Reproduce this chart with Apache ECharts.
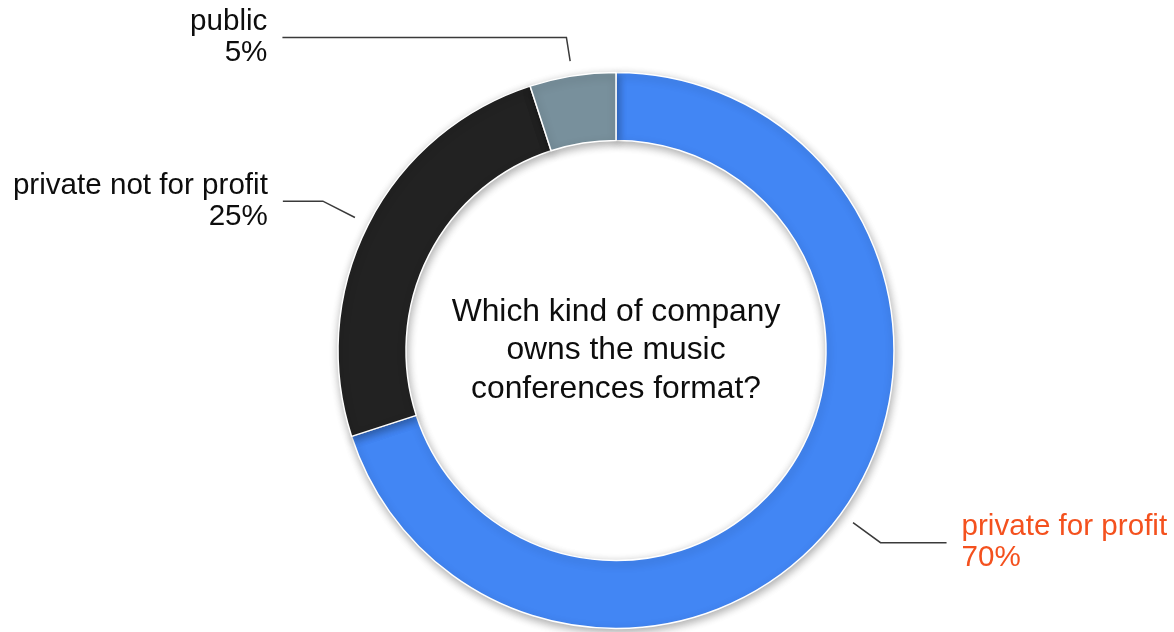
<!DOCTYPE html>
<html>
<head>
<meta charset="utf-8">
<title>Music conferences ownership</title>
<script src="https://cdn.jsdelivr.net/npm/echarts@6/dist/echarts.min.js"></script>
<style>
  html, body { margin: 0; padding: 0; background: #ffffff; }
  #chart { width: 1174px; height: 632px; }
</style>
</head>
<body>
<div id="chart"></div>
<script>
// Ownership shares, clockwise from 12 o'clock
const categories = ['private for profit', 'private not for profit', 'public'];
const shares = [70, 25, 5];
const sliceColors = ['#4286f4', '#222222', '#78909c'];
const labelColors = ['#f4511e', '#0d0d0d', '#0d0d0d'];
const centerTitle = 'Which kind of company\nowns the music\nconferences format?';

// Leader line geometry per slice: radial stub, then horizontal run
const leaderStub = [34, 36, 24];
const leaderRun = [66, 40, 284];

const FONT = '"Liberation Sans", Arial, Helvetica, sans-serif';
const CX = 616, CY = 350.5;

const chart = echarts.init(document.getElementById('chart'), null, { renderer: 'canvas' });

const ringData = categories.map((name, i) => ({
  name,
  value: shares[i],
  itemStyle: { color: sliceColors[i] }
}));

// Invisible ring slightly outside the donut carries the labels,
// so the leader lines start a little away from the ring's edge.
const labelData = categories.map((name, i) => ({
  name,
  value: shares[i],
  label: { color: labelColors[i] },
  labelLine: { length: leaderStub[i], length2: leaderRun[i] }
}));

chart.setOption({
  animation: false,
  backgroundColor: '#ffffff',
  graphic: [{
    type: 'text',
    x: CX,
    y: CY,
    silent: true,
    style: {
      text: centerTitle,
      align: 'center',
      verticalAlign: 'middle',
      fontFamily: FONT,
      fontSize: 31.8,
      lineHeight: 38.5,
      fill: '#0d0d0d'
    }
  }],
  series: [
    {
      type: 'pie',
      center: [CX, CY],
      radius: [210, 278],
      startAngle: 90,
      clockwise: true,
      silent: true,
      label: { show: false },
      labelLine: { show: false },
      itemStyle: {
        borderColor: '#ffffff',
        borderWidth: 1.5,
        shadowBlur: 9,
        shadowOffsetX: 1,
        shadowOffsetY: 3,
        shadowColor: 'rgba(0,0,0,0.32)'
      },
      data: ringData
    },
    {
      type: 'pie',
      center: [CX, CY],
      radius: [292, 293],
      startAngle: 90,
      clockwise: true,
      silent: true,
      itemStyle: { color: 'rgba(0,0,0,0)' },
      label: {
        show: true,
        position: 'outside',
        formatter: '{b}\n{c}%',
        fontFamily: FONT,
        fontSize: 29.6,
        lineHeight: 31,
        distanceToLabelLine: 15
      },
      labelLine: {
        show: true,
        smooth: false,
        lineStyle: { color: '#3a3a3a', width: 1.5 }
      },
      avoidLabelOverlap: false,
      data: labelData
    }
  ]
});
</script>
</body>
</html>
